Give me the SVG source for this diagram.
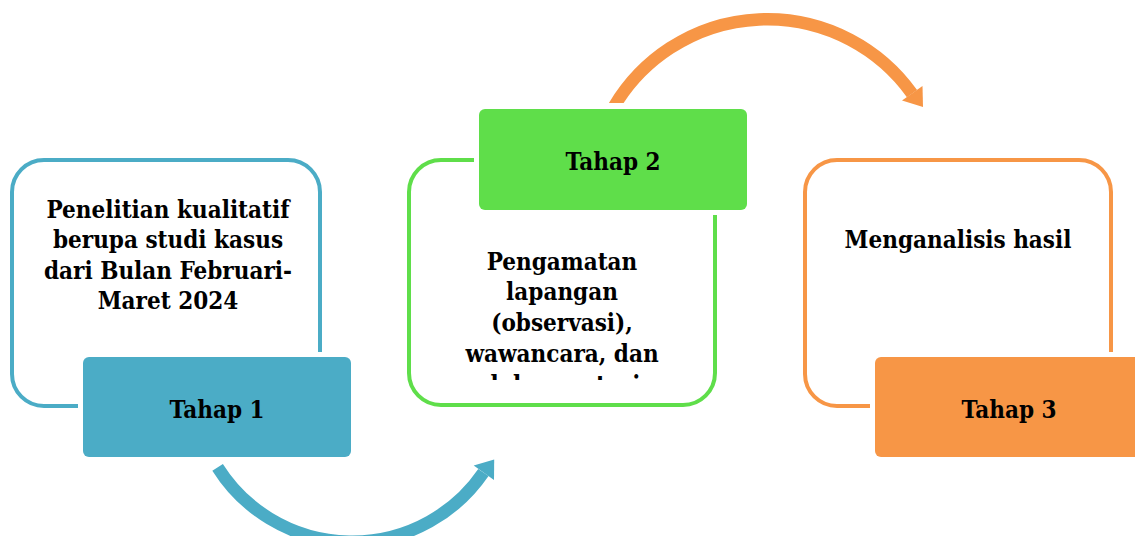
<svg xmlns="http://www.w3.org/2000/svg" width="1135" height="536" viewBox="0 0 1135 536">
<style>
.t{font-family:"DejaVu Serif Condensed","DejaVu Serif",serif;font-stretch:condensed;font-weight:bold;font-size:24px;fill:#000;text-anchor:middle}
.ob{fill:none;stroke:#4BACC6;stroke-width:4}
.og{fill:none;stroke:#5FDE4A;stroke-width:4}
.oo{fill:none;stroke:#F79646;stroke-width:4}
.fb,.fg,.fo{stroke:#fff;stroke-width:10;paint-order:stroke fill}
.fb{fill:#4BACC6}
.fg{fill:#5FDE4A}
.fo{fill:#F79646}
</style>
<defs>
<clipPath id="cb"><rect x="0" y="463" width="1135" height="100"/></clipPath>
<clipPath id="co"><rect x="0" y="0" width="1135" height="103"/></clipPath>
<clipPath id="ct"><rect x="409" y="215" width="306" height="165"/></clipPath>
</defs>
<g id="connectors">
<path d="M 217.6 467.3 A 159 159 0 0 0 483.4 472.5" fill="none" stroke="#4BACC6" stroke-width="12.5" clip-path="url(#cb)"/>
<polygon points="473.7,465.4 494.2,459.5 494,480" fill="#4BACC6"/>
<path d="M 613.5 107.5 A 178 178 0 0 1 912 93.6" fill="none" stroke="#F79646" stroke-width="12.5" clip-path="url(#co)"/>
<polygon points="902,100.6 923,107 922.5,86" fill="#F79646"/>
</g>
<g id="node1">
<rect class="ob" x="12" y="160" width="308" height="246" rx="32"/>
<rect class="fb" x="83" y="357" width="268" height="100" rx="6"/>
<text class="t" x="168" y="218">Penelitian kualitatif</text>
<text class="t" x="168" y="248">berupa studi kasus</text>
<text class="t" x="168" y="279">dari Bulan Februari-</text>
<text class="t" x="168" y="309">Maret 2024</text>
<text class="t" x="217" y="418">Tahap 1</text>
</g>
<g id="node2">
<rect class="og" x="409" y="160" width="306" height="245" rx="32"/>
<rect class="fg" x="479" y="109" width="268" height="101" rx="6"/>
<text class="t" x="613" y="170">Tahap 2</text>
<g clip-path="url(#ct)">
<text class="t" x="562" y="270">Pengamatan</text>
<text class="t" x="562" y="300">lapangan</text>
<text class="t" x="562" y="331">(observasi),</text>
<text class="t" x="562" y="362">wawancara, dan</text>
<text class="t" x="562" y="393">dokumentasi</text>
</g>
</g>
<g id="node3">
<rect class="oo" x="805" y="160" width="306" height="246" rx="32"/>
<rect class="fo" x="875" y="357" width="268" height="100" rx="6"/>
<text class="t" x="958" y="248">Menganalisis hasil</text>
<text class="t" x="1009" y="418">Tahap 3</text>
</g>
</svg>
